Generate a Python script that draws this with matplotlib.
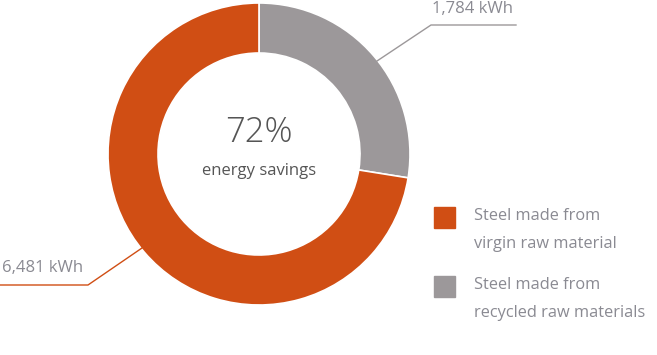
import matplotlib.pyplot as plt
from matplotlib.patches import Rectangle

# energy needed to make steel (kWh)
sources = ["Steel made from\nvirgin raw material", "Steel made from\nrecycled raw materials"]
energy = [6481, 1784]
savings_label = "72%"
colors = ["#D04E14", "#9C989A"]

plt.rcParams['font.family'] = ['Open Sans', 'DejaVu Sans']

fig = plt.figure(figsize=(6.57, 3.55), dpi=100)
ax = fig.add_axes([0, 0, 1, 1])

cx, cy, r = 259, 154, 151
# the recycled slice is shown as its share of the virgin-steel energy
# (y axis is flipped below, so the angles run the other way)
recycled_share = energy[1] / energy[0]
ax.pie([recycled_share, 1 - recycled_share], colors=[colors[1], colors[0]],
       center=(cx, cy), radius=r, startangle=-90, counterclock=True,
       wedgeprops=dict(width=50, edgecolor='white', linewidth=1.2))
ax.set_xlim(0, 657)
ax.set_ylim(355, 0)
ax.set_aspect('equal')
ax.axis('off')

ax.text(cx, 133, savings_label, ha='center', va='center', fontsize=25,
        color='#555555', fontweight='light')
ax.text(cx, 171, "energy savings", ha='center', va='center', fontsize=12,
        color='#555555')

# leader lines and value labels
ax.plot([377, 431, 516], [61, 25, 25], color='#9C989A', lw=1)
ax.text(432, 9, f"{energy[1]:,} kWh", ha='left', va='center', fontsize=12, color='#8a8a92')
ax.plot([0, 88, 142], [285, 285, 248], color='#D04E14', lw=1)
ax.text(2, 268, f"{energy[0]:,} kWh", ha='left', va='center', fontsize=12, color='#8a8a92')

# legend
for i, (lab, c) in enumerate(zip(sources, colors)):
    y0 = 207 + i * 69
    ax.add_patch(Rectangle((434, y0), 21, 21, color=c))
    l1, l2 = lab.split("\n")
    ax.text(474, y0 + 9, l1, ha='left', va='center', fontsize=11.8, color='#8a8a92')
    ax.text(474, y0 + 37, l2, ha='left', va='center', fontsize=11.8, color='#8a8a92')

fig.savefig("out.png", dpi=100)
